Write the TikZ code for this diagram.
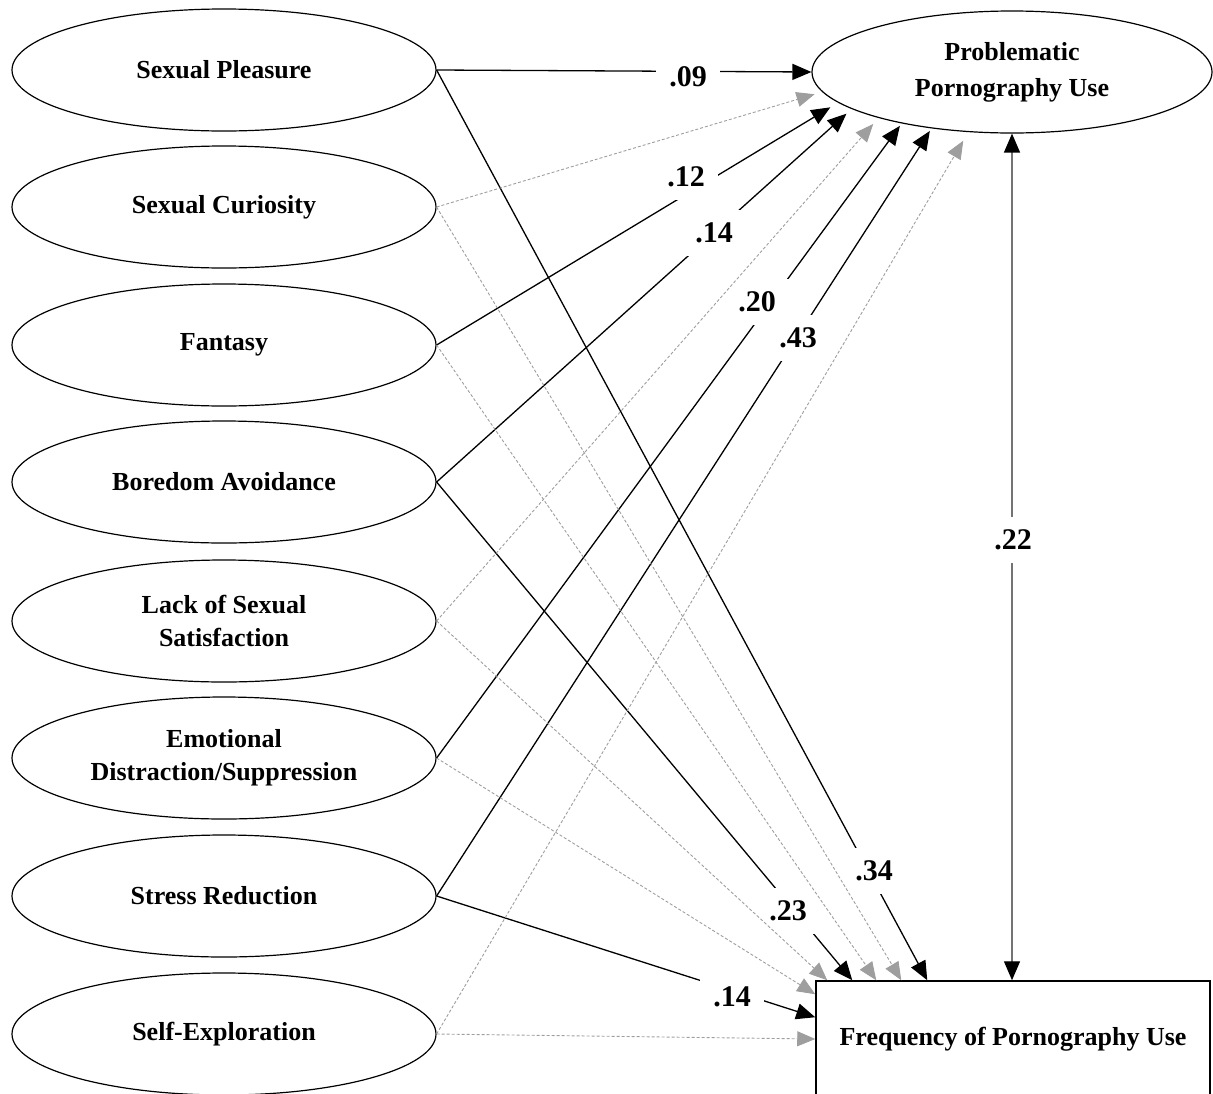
\documentclass[tikz,border=0pt]{standalone}
\usepackage{fontspec}
\setmainfont{Liberation Serif}
\usetikzlibrary{arrows.meta,shapes.geometric}
\begin{document}
\begin{tikzpicture}[x=1pt,y=-1pt,
  lat/.style={ellipse,draw,line width=1.2pt,minimum width=424pt,minimum height=122pt,inner sep=0pt,align=center,font=\bfseries\fontsize{26}{33}\selectfont},
  outbox/.style={rectangle,draw,line width=1.5pt,minimum width=394pt,minimum height=116pt,inner sep=0pt,font=\bfseries\fontsize{26}{33}\selectfont},
  sig/.style={line width=1.3pt,-{Triangle[length=19pt,width=16pt]}},
  ns/.style={line width=0.9pt,draw=black!38,dash pattern=on 3pt off 2pt,-{Triangle[length=18pt,width=15pt]}},
  both/.style={line width=1.4pt,draw=black!55,{Triangle[length=19pt,width=16pt,color=black]}-{Triangle[length=19pt,width=16pt,color=black]}},
  coef/.style={fill=white,inner sep=13pt,font=\bfseries\fontsize{30}{30}\selectfont},
]
\useasboundingbox (0,0) rectangle (1213,1093);

% latent factors
\node[lat] (sp) at (224,70) {Sexual Pleasure};
\node[lat] (sc) at (224,207) {Sexual Curiosity};
\node[lat] (fa) at (224,345) {Fantasy};
\node[lat] (ba) at (224,482) {Boredom Avoidance};
\node[lat] (ls) at (224,621) {Lack of Sexual\\Satisfaction};
\node[lat] (ed) at (224,758) {Emotional\\Distraction/Suppression};
\node[lat] (sr) at (224,896) {Stress Reduction};
\node[lat] (se) at (224,1034) {Self-Exploration};

% outcomes
\node[lat,minimum width=400pt,minimum height=122pt,font=\bfseries\fontsize{26}{36}\selectfont] (ppu) at (1012,72) {Problematic\\Pornography Use};
\node[outbox] (fpu) at (1013,1039) {Frequency of Pornography Use};

% significant paths
\draw[sig] (sp.east) -- (ppu.180);
\draw[sig,shorten >=9pt] (fa.east) -- (ppu.190.2);
\draw[sig,shorten >=7pt] (ba.east) -- (ppu.193.5);
\draw[sig,shorten >=3pt] (ed.east) -- (ppu.205.5);
\draw[sig,shorten >=3pt] (sr.east) -- (ppu.215);
\draw[sig] (sp.east) -- ([xshift=112pt]fpu.north west);
\draw[sig] (ba.east) -- ([xshift=37pt]fpu.north west);
\draw[sig] (sr.east) -- ([yshift=-37pt]fpu.north west);

% covariance
\draw[both] (ppu.south) -- (ppu.south |- fpu.north);

% coefficients
\node[coef] (c1) at (688,77) {.09};
\node[coef] (c2) at (686,177) {.12};
\node[coef] (c3) at (714,233) {.14};
\node[coef] (c4) at (757,302) {.20};
\node[coef] (c5) at (798,338) {.43};
\node[coef] (c6) at (1013,540) {.22};
\node[coef] (c7) at (874,871) {.34};
\node[coef] (c8) at (788,911) {.23};
\node[coef] (c9) at (732,997) {.14};

% non-significant paths
\draw[ns,shorten >=8pt] (sc.east) -- (ppu.186);
\draw[ns,shorten >=8pt] (ls.east) -- (ppu.199);
\draw[ns,shorten >=10pt] (se.east) -- (ppu.234);
\draw[ns] (sc.east) -- ([xshift=86pt]fpu.north west);
\draw[ns] (fa.east) -- ([xshift=61pt]fpu.north west);
\draw[ns] (ls.east) -- ([xshift=12pt]fpu.north west);
\draw[ns] (ed.east) -- ([yshift=-14pt]fpu.north west);
\draw[ns] (se.east) -- (fpu.west);
\end{tikzpicture}
\end{document}
